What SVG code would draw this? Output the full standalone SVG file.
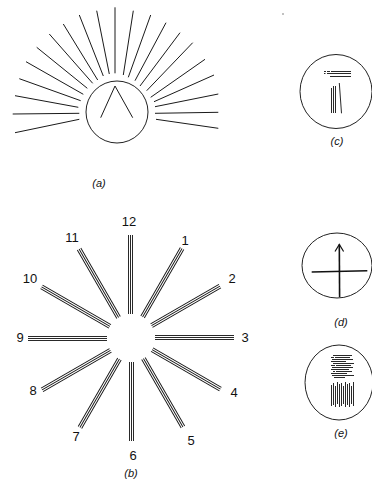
<svg xmlns="http://www.w3.org/2000/svg" xmlns:xlink="http://www.w3.org/1999/xlink" width="372" height="479" viewBox="0 0 372 479">
<style>
.ln{stroke:#1a1a1a;stroke-width:1;fill:none;stroke-linecap:butt}
.thin{stroke:#111;stroke-width:0.9;fill:none}
.ring{stroke:#222;stroke-width:1;fill:none}
.num{font-family:"Liberation Sans",Arial,sans-serif;font-size:13px;fill:#111;text-anchor:middle}
.cap{font-family:"Liberation Sans",Arial,sans-serif;font-size:11px;font-style:italic;fill:#111;text-anchor:middle}
</style>
<defs>
<g id="spoke" class="thin">
<line x1="128.5" y1="235" x2="128.5" y2="314"/>
<line x1="130.5" y1="235" x2="130.5" y2="314"/>
<line x1="132.5" y1="235" x2="132.5" y2="314"/>
</g>
</defs>
<rect width="372" height="479" fill="#fff"/>
<circle cx="283" cy="14" r="0.7" fill="#555"/>

<g id="fig-a">
<circle class="ring" cx="117" cy="112" r="31"/>
<polyline class="ln" points="100.7,117.7 115,86 132.7,117.7"/>
<g class="ln">
<line x1="15" y1="132.7" x2="79.3" y2="119.3"/>
<line x1="12.7" y1="114" x2="79.3" y2="113.3"/>
<line x1="15" y1="95.7" x2="78.3" y2="107.3"/>
<line x1="19.3" y1="78.7" x2="80.7" y2="100.7"/>
<line x1="26" y1="61.7" x2="83.3" y2="94.3"/>
<line x1="36.7" y1="47.3" x2="87.3" y2="88.3"/>
<line x1="49.3" y1="34" x2="92.7" y2="83.3"/>
<line x1="63.3" y1="24" x2="97.7" y2="80"/>
<line x1="79.3" y1="15" x2="103.3" y2="76"/>
<line x1="96.7" y1="10.7" x2="109.3" y2="74"/>
<line x1="115" y1="7.3" x2="115" y2="73.3"/>
<line x1="133.3" y1="10.7" x2="123.3" y2="75"/>
<line x1="150.7" y1="15" x2="128.3" y2="77.3"/>
<line x1="166" y1="22.7" x2="135" y2="80.7"/>
<line x1="180" y1="32.7" x2="140" y2="86"/>
<line x1="192.7" y1="42.7" x2="146.7" y2="90.7"/>
<line x1="205" y1="59.3" x2="150.7" y2="97.3"/>
<line x1="214" y1="75" x2="154" y2="101.7"/>
<line x1="218.3" y1="94" x2="155" y2="106.7"/>
<line x1="218.3" y1="112.3" x2="155" y2="113.3"/>
<line x1="218.3" y1="128.3" x2="156" y2="119.3"/>
</g>
<text class="cap" x="99" y="187">(a)</text>
</g>

<g id="fig-b">
<use xlink:href="#spoke"/>
<use xlink:href="#spoke" transform="rotate(30 131 338)"/>
<use xlink:href="#spoke" transform="rotate(60 131 338)"/>
<use xlink:href="#spoke" transform="rotate(90 131 338)"/>
<use xlink:href="#spoke" transform="rotate(120 131 338)"/>
<use xlink:href="#spoke" transform="rotate(150 131 338)"/>
<use xlink:href="#spoke" transform="rotate(180 131 338)"/>
<use xlink:href="#spoke" transform="rotate(210 131 338)"/>
<use xlink:href="#spoke" transform="rotate(240 131 338)"/>
<use xlink:href="#spoke" transform="rotate(270 131 338)"/>
<use xlink:href="#spoke" transform="rotate(300 131 338)"/>
<use xlink:href="#spoke" transform="rotate(330 131 338)"/>
<text class="num" x="129" y="225.5">12</text>
<text class="num" x="185" y="244.5">1</text>
<text class="num" x="232" y="282.5">2</text>
<text class="num" x="245" y="341.5">3</text>
<text class="num" x="234" y="396.5">4</text>
<text class="num" x="191" y="444.5">5</text>
<text class="num" x="133" y="459.5">6</text>
<text class="num" x="76" y="440.5">7</text>
<text class="num" x="33" y="394.5">8</text>
<text class="num" x="20" y="341.5">9</text>
<text class="num" x="30" y="282.5">10</text>
<text class="num" x="72" y="241.5">11</text>
<text class="cap" x="131" y="477">(b)</text>
</g>

<g id="fig-c">
<ellipse class="ring" cx="336" cy="91.5" rx="36" ry="37"/>
<g class="thin">
<line x1="324" y1="71.5" x2="351" y2="71.5" stroke-dasharray="2 1 3 1 30"/>
<line x1="324" y1="73.5" x2="351" y2="73.5" stroke-dasharray="1.5 1.5 30"/>
<line x1="330" y1="76.5" x2="351" y2="76.5"/>
<line x1="331.5" y1="88" x2="331.5" y2="113"/>
<line x1="333.5" y1="86" x2="333.5" y2="113"/>
<line x1="335.5" y1="86" x2="335.5" y2="113"/>
<line x1="339.3" y1="83" x2="341.5" y2="113.3"/>
</g>
<text class="cap" x="337" y="145">(c)</text>
</g>

<g id="fig-d">
<ellipse class="ring" cx="337" cy="265.5" rx="35" ry="32.5"/>
<g stroke="#111" stroke-width="1.6" fill="none">
<line x1="311.7" y1="272" x2="367.3" y2="270.7"/>
<line x1="339.3" y1="244.5" x2="339.6" y2="297"/>
<polyline points="335,251.5 339.3,244.5 343.6,251.5" stroke-width="1.2"/>
</g>
<text class="cap" x="341" y="326">(d)</text>
</g>

<g id="fig-e">
<ellipse class="ring" cx="339" cy="382.5" rx="34" ry="37.5"/>
<g class="thin">
<line x1="333" y1="355.5" x2="352" y2="355.5"/>
<line x1="331" y1="357.5" x2="350" y2="357.5" stroke-dasharray="3 1 20"/>
<line x1="332" y1="359.5" x2="353" y2="359.5"/>
<line x1="331" y1="361.5" x2="346" y2="361.5"/>
<line x1="333" y1="363.5" x2="354" y2="363.5"/>
<line x1="331" y1="365.5" x2="351" y2="365.5" stroke-dasharray="4 1 20"/>
<line x1="332" y1="367.5" x2="353" y2="367.5"/>
<line x1="331" y1="369.5" x2="349" y2="369.5"/>
<line x1="333" y1="371.5" x2="352" y2="371.5" stroke-dasharray="2 1 20"/>
<line x1="331" y1="373.5" x2="347" y2="373.5"/>
<line x1="332" y1="375.5" x2="354" y2="375.5"/>
<line x1="334" y1="377.5" x2="345" y2="377.5"/>
<line x1="331.5" y1="385" x2="331.5" y2="406"/>
<line x1="333.5" y1="383" x2="333.5" y2="405"/>
<line x1="335.5" y1="386" x2="335.5" y2="407"/>
<line x1="337.5" y1="382" x2="337.5" y2="404"/>
<line x1="339.5" y1="384" x2="339.5" y2="407"/>
<line x1="341.5" y1="383" x2="341.5" y2="406"/>
<line x1="343.5" y1="386" x2="343.5" y2="404"/>
<line x1="345.5" y1="382" x2="345.5" y2="407"/>
<line x1="347.5" y1="384" x2="347.5" y2="405"/>
<line x1="349.5" y1="383" x2="349.5" y2="407"/>
<line x1="351.5" y1="386" x2="351.5" y2="404"/>
<line x1="353.5" y1="382" x2="353.5" y2="406"/>
</g>
<text class="cap" x="341" y="437">(e)</text>
</g>
</svg>
